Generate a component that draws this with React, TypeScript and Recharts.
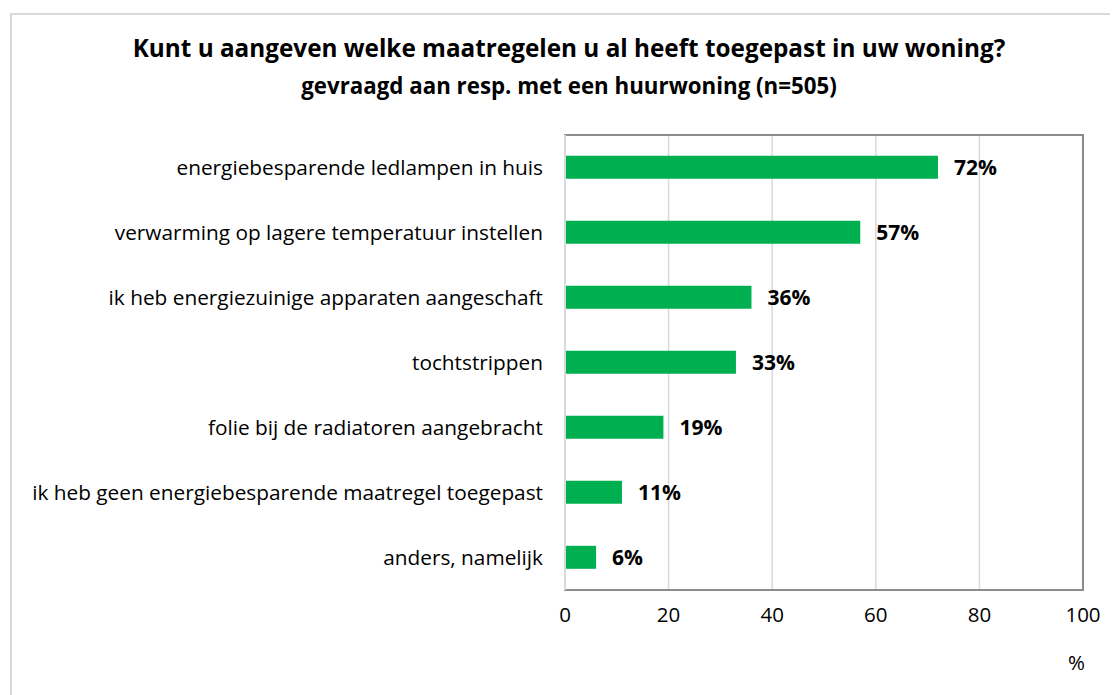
import React from 'react';
import { BarChart, Bar, XAxis, YAxis, CartesianGrid, LabelList, ReferenceArea, ReferenceLine } from 'recharts';

const categories = [
  'energiebesparende ledlampen in huis',
  'verwarming op lagere temperatuur instellen',
  'ik heb energiezuinige apparaten aangeschaft',
  'tochtstrippen',
  'folie bij de radiatoren aangebracht',
  'ik heb geen energiebesparende maatregel toegepast',
  'anders, namelijk',
];
const values = [72, 57, 36, 33, 19, 11, 6];
const xTicks = [0, 20, 40, 60, 80, 100];

const titleText = 'Kunt u aangeven welke maatregelen u al heeft toegepast in uw woning?';
const subtitleText = 'gevraagd aan resp. met een huurwoning (n=505)';

const data = categories.map((c, i) => ({ name: c, value: values[i] }));

const FONT = '"Open Sans", sans-serif';

export default function App() {
  return (
    <div style={{ position: 'relative', width: 1110, height: 687, fontFamily: FONT, background: '#fff' }}>
      <div style={{ position: 'absolute', left: 2, top: 5, width: 1120, height: 700, borderLeft: '2px solid #d9d9d9', borderTop: '2px solid #d9d9d9' }} />
      <div style={{ position: 'absolute', left: 0, top: 23, width: 1122, textAlign: 'center', fontWeight: 700, fontSize: 24.3, color: '#000', whiteSpace: 'nowrap' }}>
        {titleText}
      </div>
      <div style={{ position: 'absolute', left: 0, top: 62, width: 1122, textAlign: 'center', fontWeight: 700, fontSize: 22.3, color: '#000', whiteSpace: 'nowrap' }}>
        {subtitleText}
      </div>
      <div style={{ position: 'absolute', left: 0, top: 0 }}>
        <BarChart
          width={1110}
          height={687}
          data={data}
          layout="vertical"
          margin={{ top: 127, right: 35, bottom: 25, left: 0 }}
          barCategoryGap="32%"
        >
          <CartesianGrid horizontal={false} vertical={true} stroke="#d9d9d9" strokeWidth={1.5} />
          <XAxis
            type="number"
            domain={[0, 100]}
            ticks={xTicks}
            tickLine={false}
            axisLine={false}
            tickSize={0}
            tickMargin={17}
            height={80}
            tick={{ fill: '#000', fontSize: 20.5, fontFamily: FONT }}
            label={{ value: '%', position: 'insideBottomRight', offset: 0, dx: 2, fill: '#000', fontSize: 20.5, fontFamily: FONT }}
          />
          <YAxis
            type="category"
            dataKey="name"
            width={557}
            tickLine={false}
            axisLine={false}
            tickSize={0}
            tickMargin={22}
            interval={0}
            tick={{ fill: '#000', fontSize: 20.8, fontFamily: FONT }}
          />
          <ReferenceArea x1={0} x2={100} fill="none" stroke="#8c8c8c" strokeWidth={2} ifOverflow="visible" />
          <ReferenceLine x={0} stroke="#d9d9d9" strokeWidth={2} />
          <Bar dataKey="value" fill="#00b050" isAnimationActive={false}>
            <LabelList
              dataKey="value"
              position="right"
              offset={16}
              formatter={(v: number) => `${v}%`}
              style={{ fill: '#000', fontWeight: 700, fontSize: 21, fontFamily: FONT }}
            />
          </Bar>
        </BarChart>
      </div>
    </div>
  );
}
